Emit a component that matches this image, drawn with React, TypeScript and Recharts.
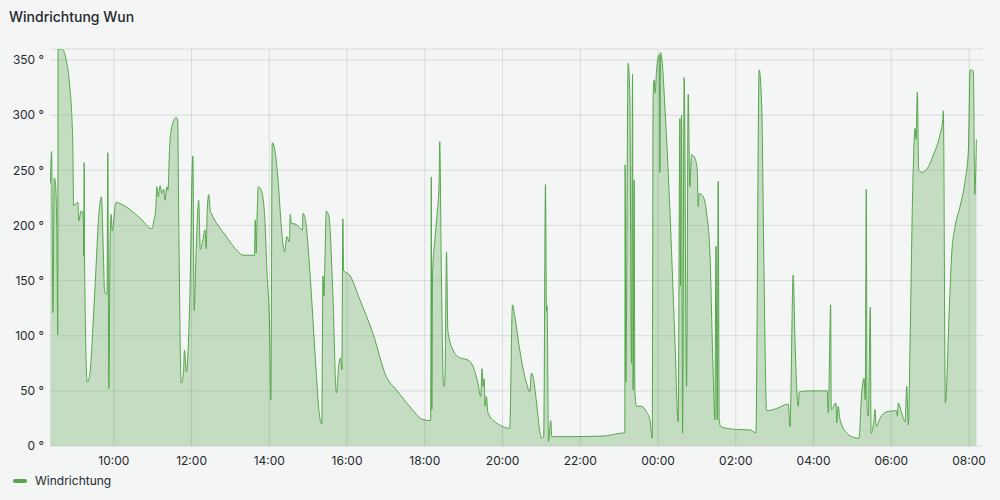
import React from "react";
import { AreaChart, Area, XAxis, YAxis, CartesianGrid, ReferenceLine } from "recharts";

// minutes since midnight of the first day (values past 1440 are the next morning)
const minutes = [
  502, 504, 506, 508, 509.5, 512, 513.5, 514, 520, 526.5, 531.5, 536.5, 538, 544.5, 546, 549.5, 551, 553, 553.7, 554.2,
  554.8, 559, 562.5, 570, 578, 581, 583, 586, 589.5, 590.7, 592.3, 594.4, 596, 597.5, 603.5, 609, 640, 659, 662, 664.5,
  666.5, 668.5, 671.5, 674, 677, 679, 682, 683.5, 686, 690, 696.5, 698.5, 700.5, 704, 707.5, 709, 712, 717, 722, 724,
  727, 731, 733.5, 737.5, 740.5, 742.5, 744, 746.5, 749, 750.5, 773.5, 794, 799, 817, 818.3, 819.8, 821, 823, 827.5, 832.5,
  836.5, 840.5, 842.3, 844.5, 848, 853.5, 858.5, 863.5, 867, 871, 872.3, 874, 881.5, 891, 892, 896, 902, 912.5, 917.5, 921,
  922.8, 924.3, 925.5, 928, 932, 938, 943.5, 947.5, 950, 952, 953.5, 954.7, 964, 979.5, 1000, 1020.5, 1036, 1056.5, 1077, 1089,
  1090, 1090.8, 1092, 1095.5, 1099, 1102, 1103, 1105.5, 1109, 1111, 1113.5, 1115.5, 1123.5, 1134, 1146.5, 1154.5, 1162, 1166.3, 1168.3, 1170,
  1171.5, 1173, 1175, 1177.5, 1190.5, 1201, 1211, 1215.3, 1219, 1226.5, 1237, 1242, 1244.5, 1247, 1252.5, 1257.5, 1260.5, 1263.5, 1266.2, 1267.8,
  1268.7, 1270.9, 1274.4, 1276, 1304, 1355, 1381, 1388.7, 1389.2, 1390.3, 1393.8, 1396.4, 1399, 1400.6, 1401.5, 1403.1, 1404.2, 1406.8, 1414.5, 1422,
  1427.3, 1431, 1432.4, 1434, 1435.5, 1437.7, 1441.7, 1442.8, 1443.8, 1446, 1450.5, 1458, 1466, 1471, 1473.7, 1474.6, 1476.3, 1477.8, 1480.3, 1484,
  1486.5, 1489, 1491.7, 1496.8, 1500.4, 1501.9, 1503.5, 1509.7, 1515, 1520, 1525, 1527.7, 1529.3, 1531.3, 1532.8, 1534.4, 1536.5, 1561, 1582, 1591,
  1596, 1600, 1603.5, 1607.5, 1623, 1641, 1643.5, 1648.6, 1651.3, 1656.4, 1658, 1674.5, 1701, 1702.7, 1706.4, 1707.3, 1714.6, 1715.7, 1718, 1720.8,
  1731, 1741, 1750, 1754.3, 1757.8, 1759.8, 1761.4, 1762.5, 1764.5, 1767.6, 1768.7, 1773.3, 1774.8, 1776.8, 1782.5, 1793, 1808.3, 1809.2, 1810.8, 1816,
  1821.2, 1823.8, 1826.3, 1829, 1833, 1836.6, 1838.1, 1840.2, 1842.3, 1847, 1854.7, 1865, 1875, 1879.4, 1880.3, 1883.4, 1889.6, 1893.3, 1898.4, 1906,
  1914, 1919, 1921.6, 1926.6, 1928.8, 1931.3,
];

const degrees = [
  238, 267, 121, 243, 241, 199, 101, 360, 360, 350, 329, 278, 218, 221, 204, 213, 213, 205, 172, 257,
  170, 58, 63, 133, 217, 226, 193, 139, 138, 266, 52, 190, 210, 195, 221, 220, 207, 197, 205, 213,
  235, 226, 236, 229, 233, 223, 235, 232, 269, 291, 298, 296, 187, 57, 66, 87, 67, 126, 263, 123,
  175, 223, 178, 187, 196, 179, 211, 228, 213, 211, 190, 175, 173, 173, 205, 175, 205, 235, 232, 211,
  157, 105, 42, 275, 270, 241, 199, 176, 190, 185, 210, 202, 201, 196, 211, 204, 163, 66, 27, 20,
  154, 136, 160, 213, 208, 139, 48, 75, 80, 69, 206, 159, 155, 133, 102, 63, 51, 36, 24, 23,
  244, 33, 157, 187, 211, 238, 276, 157, 54, 60, 176, 105, 87, 80, 78, 72, 57, 45, 70, 54,
  61, 36, 45, 30, 21, 17.5, 16, 128, 117, 87, 57, 49, 66, 63, 39, 13, 7, 9, 237, 122,
  127, 4, 23, 8.5, 8.5, 9, 11.5, 12, 255, 58, 347, 320, 75, 337, 51, 241, 49, 36, 36, 31,
  24, 7, 317, 332, 320, 341, 355, 248, 357, 350, 308, 217, 96, 22, 297, 145, 300, 11.5, 334, 54,
  319, 235, 264, 261, 251, 217, 229, 226, 211, 175, 66, 24, 181, 24, 240, 25, 17.5, 15, 14.6, 12,
  341, 308, 157, 32, 34, 38, 17.5, 155, 96, 36, 49, 50, 50, 30, 128, 33, 39, 21, 36, 24,
  12, 8, 7, 48, 61.5, 42, 233, 33, 27, 126, 11.5, 24, 33, 17.5, 25, 31, 32, 27, 39, 30,
  22, 54, 19, 96, 232, 288, 278, 321, 251, 248, 251, 264, 282, 296, 304, 39, 126, 175, 199, 217,
  241, 269, 341, 340, 228, 278,
];

const yTicks = [0, 50, 100, 150, 200, 250, 300, 350];
const xTicks = [600, 720, 840, 960, 1080, 1200, 1320, 1440, 1560, 1680, 1800, 1920];

const data = minutes.map((t, i) => ({ t, value: degrees[i] }));

const GREEN = "#56a64b";
const TEXT = "#24292e";
const GRID = "rgba(36,41,46,0.12)";

const fmtTime = (t: number) => {
  const h = Math.floor(t / 60) % 24;
  const m = Math.round(t % 60);
  return `${String(h).padStart(2, "0")}:${String(m).padStart(2, "0")}`;
};

const App: React.FC = () => {
  return (
    <div
      style={{
        position: "absolute",
        left: 0,
        top: 0,
        width: 1000,
        height: 500,
        background: "#f4f5f5",
        fontFamily: "Inter, sans-serif",
        color: TEXT,
      }}
    >
      <div style={{ position: "absolute", left: 9, top: 8, fontSize: 14, lineHeight: "18px", fontWeight: 500 }}>
        Windrichtung Wun
      </div>
      <AreaChart width={1000} height={500} data={data} margin={{ top: 49, right: 17, left: 0, bottom: 24 }}>
        <CartesianGrid stroke={GRID} vertical={false} />
        {/* vertical grid only at the labelled hours */}
        {xTicks.map((t) => (
          <ReferenceLine key={t} x={t} stroke={GRID} />
        ))}
        <XAxis
          dataKey="t"
          type="number"
          domain={[501.5, 1941.5]}
          ticks={xTicks}
          tickFormatter={fmtTime}
          axisLine={false}
          tickLine={false}
          tickSize={0}
          tickMargin={10}
          height={30}
          tick={{ fill: TEXT, fontSize: 12 }}
          allowDataOverflow
        />
        <YAxis
          type="number"
          domain={[0, 360]}
          ticks={yTicks}
          tickFormatter={(v: number) => `${v} °`}
          axisLine={false}
          tickLine={false}
          tickSize={0}
          tickMargin={6}
          width={50}
          tick={{ fill: TEXT, fontSize: 12 }}
          allowDataOverflow
        />
        <Area
          type="monotone"
          dataKey="value"
          stroke={GREEN}
          strokeWidth={1}
          fill={GREEN}
          fillOpacity={0.3}
          dot={false}
          activeDot={false}
          isAnimationActive={false}
        />
      </AreaChart>
      <div style={{ position: "absolute", left: 13, top: 473, display: "flex", alignItems: "center", fontSize: 12 }}>
        <span style={{ display: "inline-block", width: 14, height: 4, borderRadius: 2, background: GREEN, marginRight: 8 }} />
        <span style={{ lineHeight: "16px" }}>Windrichtung</span>
      </div>
    </div>
  );
};

export default App;
